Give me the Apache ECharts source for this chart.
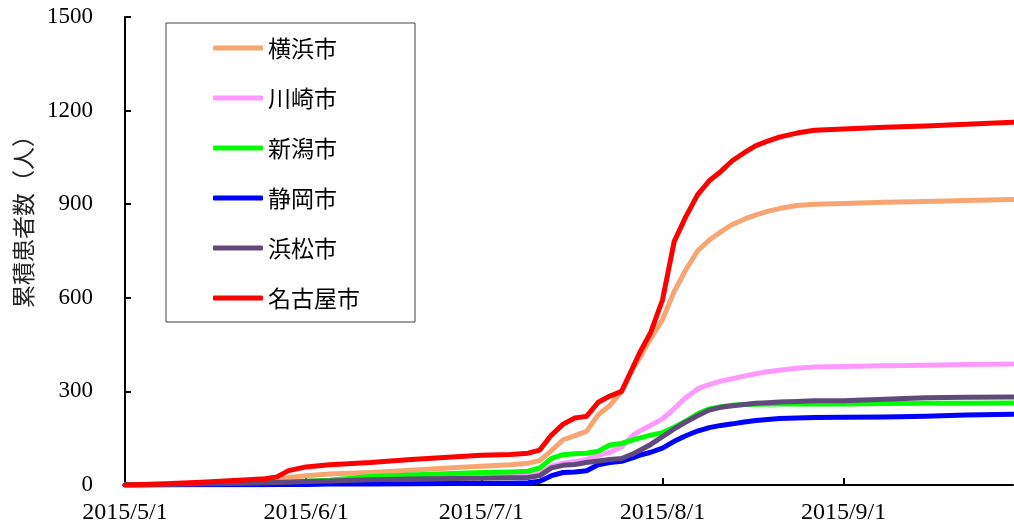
<!DOCTYPE html>
<html>
<head>
<meta charset="utf-8">
<script src="https://cdn.jsdelivr.net/npm/echarts@6/dist/echarts.min.js"></script>
<style>
html,body{margin:0;padding:0;background:#fff;}
#chart{width:1014px;height:531px;}
</style>
</head>
<body>
<div id="chart"></div>
<script>
const dates = ['2015-05-01','2015-05-08','2015-05-15','2015-05-22','2015-05-25','2015-05-27','2015-05-29','2015-06-01','2015-06-05','2015-06-12','2015-06-19','2015-06-26','2015-07-01','2015-07-06','2015-07-09','2015-07-11','2015-07-13','2015-07-15','2015-07-17','2015-07-19','2015-07-21','2015-07-23','2015-07-25','2015-07-27','2015-07-28','2015-07-30','2015-08-01','2015-08-03','2015-08-05','2015-08-07','2015-08-09','2015-08-11','2015-08-13','2015-08-15','2015-08-17','2015-08-19','2015-08-21','2015-08-24','2015-08-27','2015-09-01','2015-09-08','2015-09-15','2015-09-22','2015-09-30'];

const seriesNames = ['横浜市','川崎市','新潟市','静岡市','浜松市','名古屋市'];

const yokohama = [0,2,5,10,13,17,24,30,35,40,47,55,60,65,70,78,110,145,158,172,225,255,300,375,405,470,530,620,690,750,785,812,835,852,866,877,886,896,900,902,906,909,912,915];
const kawasaki = [0,1,3,6,8,9,10,12,14,17,20,24,27,30,32,40,60,70,75,82,95,105,122,160,172,192,212,245,280,308,322,333,341,349,357,363,368,374,378,380,382,384,386,388];
const niigata  = [0,2,4,7,8,9,10,12,15,27,32,37,40,42,44,55,85,97,100,102,108,128,133,145,150,160,168,185,205,228,244,251,256,258,259,260,260,260,260,260,261,262,262,263];
const shizuoka = [0,0,1,1,1,2,2,2,3,3,4,5,5,6,7,12,30,40,42,46,65,72,76,88,95,105,118,140,158,173,184,191,196,202,207,210,213,215,216,217,218,220,224,227];
const hamamatsu= [0,2,4,6,7,8,9,11,13,17,19,21,22,23,24,30,55,63,66,72,77,82,85,100,110,130,155,180,202,222,240,249,254,258,262,264,266,268,270,270,275,280,281,282];
const nagoya   = [0,4,10,17,20,26,46,58,65,72,82,90,95,98,102,112,160,195,215,220,265,285,300,380,420,490,593,780,860,930,975,1005,1040,1065,1088,1102,1115,1128,1137,1141,1147,1151,1156,1163];

const yTicks = [0,300,600,900,1200,1500];
const colors = ['#F7A673','#FF99FF','#00FF00','#0000FF','#604A7B','#FF0000'];
const values = [yokohama,kawasaki,niigata,shizuoka,hamamatsu,nagoya];

const chart = echarts.init(document.getElementById('chart'), null, {renderer:'canvas'});
const serif = '"Liberation Serif", "DejaVu Serif", serif';
const sans = '"Noto Sans CJK JP", "Noto Sans", sans-serif';

chart.setOption({
  animation:false,
  backgroundColor:'#fff',
  grid:{left:125, right:1, top:17, bottom:46, containLabel:false},
  legend:{
    orient:'vertical', left:166, top:23,
    padding:[13,55,12,47],
    itemWidth:50, itemHeight:5, itemGap:26,
    icon:'roundRect',
    borderColor:'#404040', borderWidth:1,
    textStyle:{fontFamily:sans, fontSize:23, color:'#000', lineHeight:24, height:24},
    data:seriesNames
  },
  xAxis:{
    type:'time',
    min:'2015-05-01', max:'2015-09-30',
    axisLine:{lineStyle:{color:'#000', width:2}},
    axisTick:{show:true, inside:true, length:7, lineStyle:{color:'#000', width:2}},
    axisLabel:{fontFamily:serif, fontSize:24, color:'#000', margin:16,
      formatter:'{yyyy}/{M}/{d}', hideOverlap:false},
    splitLine:{show:false}
  },
  yAxis:{
    type:'value', min:0, max:1500, interval:300,
    name:'累積患者数（人）', nameLocation:'middle', nameGap:90,
    nameTextStyle:{fontFamily:sans, fontSize:23, color:'#222', padding:[0,0,0,70]},
    axisLine:{show:true, lineStyle:{color:'#000', width:2}},
    axisTick:{show:true, inside:true, length:6, lineStyle:{color:'#000', width:2}},
    axisLabel:{fontFamily:serif, fontSize:23, color:'#000', margin:32,
      formatter:function(v){return yTicks.indexOf(v)>=0 ? String(v) : '';}},
    splitLine:{show:false}
  },
  series: seriesNames.map(function(n,i){
    return {
      name:n, type:'line', showSymbol:false, symbol:'none',
      lineStyle:{color:colors[i], width:5, cap:'round', join:'round'},
      itemStyle:{color:colors[i]},
      data: dates.map(function(d,j){return [d, values[i][j]];})
    };
  })
});
</script>
</body>
</html>
